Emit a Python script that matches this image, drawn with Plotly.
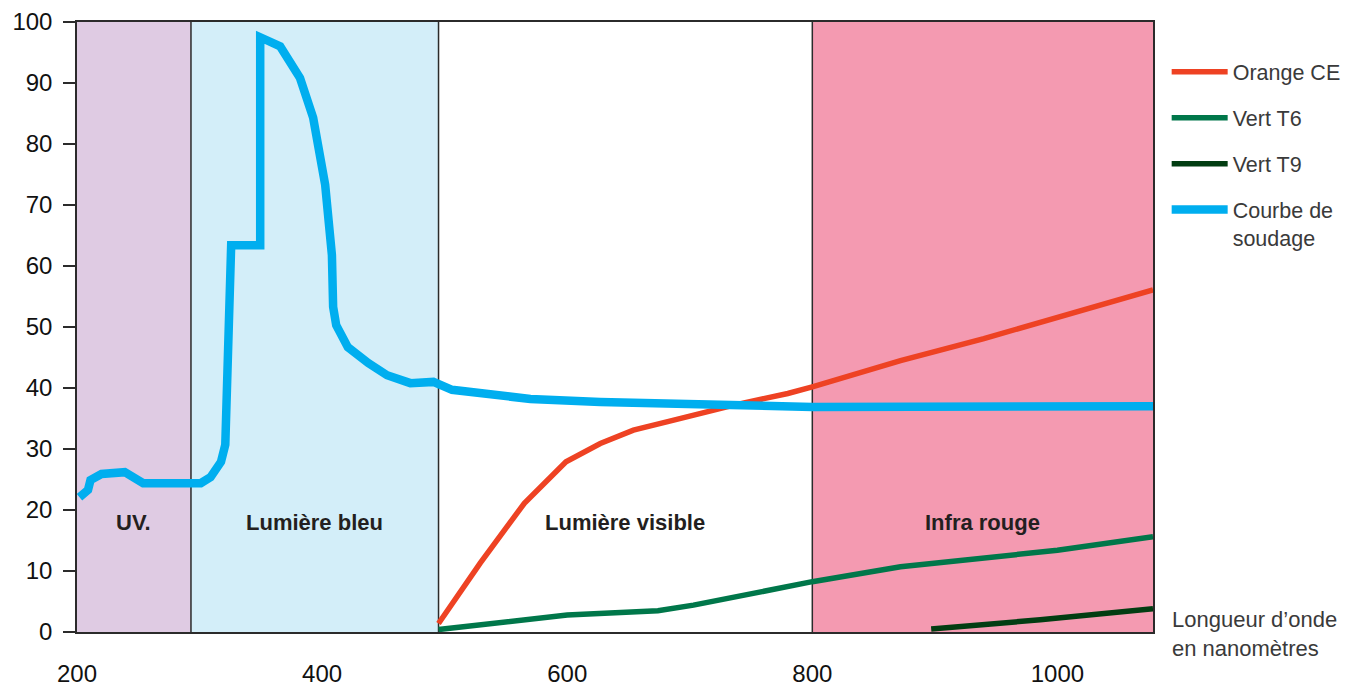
import plotly.graph_objects as go

# ---------------- data ----------------
band_names = ["UV.", "Lumière bleu", "Lumière visible", "Infra rouge"]
band_starts = [200, 293, 495, 800]
band_ends = [293, 495, 800, 1078]
band_label_y = 18

orange_x = [495, 529, 565, 599, 627, 654, 682, 736, 780, 800, 872, 940, 1078]
orange_y = [1.4, 11.3, 21.1, 27.9, 30.9, 33.1, 34.5, 37.2, 39.1, 40.2, 44.5, 48.1, 56.1]

vert_t6_x = [495, 600, 674, 703, 800, 872, 1000, 1078]
vert_t6_y = [0.4, 2.8, 3.5, 4.4, 8.25, 10.7, 13.4, 15.6]

vert_t9_x = [897, 986, 1078]
vert_t9_y = [0.5, 2.0, 3.8]

soudage_x = [202, 209, 211, 220, 239, 254, 292, 301, 309, 317.5, 321, 325.8, 349.5, 349.5,
             365.8, 382, 392.7, 402.5, 408, 409, 411.5, 421, 437.7, 453, 472, 490.8,
             506, 570, 627, 709, 766, 800, 1078]
soudage_y = [22.1, 23.3, 24.9, 25.9, 26.2, 24.4, 24.4, 24.4, 25.4, 27.9, 30.7, 63.4, 63.4, 97.5,
             96.0, 90.8, 84.3, 73.3, 61.8, 53.3, 50.3, 46.7, 44.1, 42.1, 40.8, 41.0,
             39.7, 38.2, 37.7, 37.2, 36.9, 36.9, 37.0]

x_ticks = [200, 400, 600, 800, 1000]
y_ticks = [0, 10, 20, 30, 40, 50, 60, 70, 80, 90, 100]

# ---------------- style ----------------
band_colors = ["#dfcbe3", "#d3eef9", "rgba(0,0,0,0)", "#f49ab1"]
FONT = "Liberation Sans, Arial, sans-serif"

fig = go.Figure()

fig.add_trace(go.Scatter(x=orange_x, y=orange_y, mode="lines", name="Orange CE",
                         line=dict(color="#ee4223", width=5.5), legendgroup="a"))
fig.add_trace(go.Scatter(x=vert_t6_x, y=vert_t6_y, mode="lines", name="Vert T6",
                         line=dict(color="#00774a", width=5.5), legendgroup="b"))
fig.add_trace(go.Scatter(x=vert_t9_x, y=vert_t9_y, mode="lines", name="Vert T9",
                         line=dict(color="#023d12", width=5.5), legendgroup="c"))
fig.add_trace(go.Scatter(x=soudage_x, y=soudage_y, mode="lines", name="Courbe de<br>soudage",
                         line=dict(color="#00aeef", width=8.5), legendgroup="d"))

shapes = []
for s, e, c in zip(band_starts, band_ends, band_colors):
    shapes.append(dict(type="rect", xref="x", yref="y", x0=s, x1=e, y0=0, y1=100,
                       fillcolor=c, line=dict(width=0), layer="below"))
for b in band_starts[1:]:
    shapes.append(dict(type="line", xref="x", yref="y", x0=b, x1=b, y0=0, y1=100,
                       line=dict(color="#2b2b2b", width=1.5), layer="below"))

annotations = []
for n, s, e in zip(band_names, band_starts, band_ends):
    annotations.append(dict(x=(s + e) / 2, y=band_label_y, xref="x", yref="y", text="<b>%s</b>" % n,
                            showarrow=False, font=dict(family=FONT, size=22, color="#231f20")))
annotations.append(dict(x=1.0158, y=-0.003, xref="paper", yref="paper",
                        text="Longueur d’onde<br>en nanomètres", showarrow=False,
                        xanchor="left", yanchor="middle", align="left",
                        font=dict(family=FONT, size=22, color="#3a3a3a")))

fig.update_layout(
    width=1346, height=686,
    margin=dict(l=77, r=193, t=22, b=54, autoexpand=False),
    paper_bgcolor="white", plot_bgcolor="white",
    shapes=shapes, annotations=annotations,
    font=dict(family=FONT, color="#1a1a1a"),
    showlegend=True,
    legend=dict(x=1.0127, y=0.952, xanchor="left", yanchor="top",
                font=dict(family=FONT, size=21.5, color="#3a3a3a"),
                tracegroupgap=15, valign="top", itemwidth=56,
                bgcolor="rgba(0,0,0,0)"),
)
fig.update_xaxes(range=[200, 1078], tickvals=x_ticks, showgrid=False, zeroline=False,
                 showline=True, linecolor="#2b2b2b", linewidth=1.5, mirror=True,
                 ticks="outside", ticklen=19, tickcolor="rgba(0,0,0,0)", automargin=False,
                 tickfont=dict(family=FONT, size=24, color="#111"))
fig.update_yaxes(range=[0, 100], tickvals=y_ticks, showgrid=False, zeroline=False,
                 showline=True, linecolor="#2b2b2b", linewidth=1.5, mirror=True,
                 ticks="outside", ticklen=12, tickwidth=1.5, tickcolor="#2b2b2b", automargin=False,
                 ticklabelstandoff=6,
                 tickfont=dict(family=FONT, size=24, color="#111"))

fig.write_html("out.html", config={"displayModeBar": False},
               post_script="document.body.style.margin='0';")
